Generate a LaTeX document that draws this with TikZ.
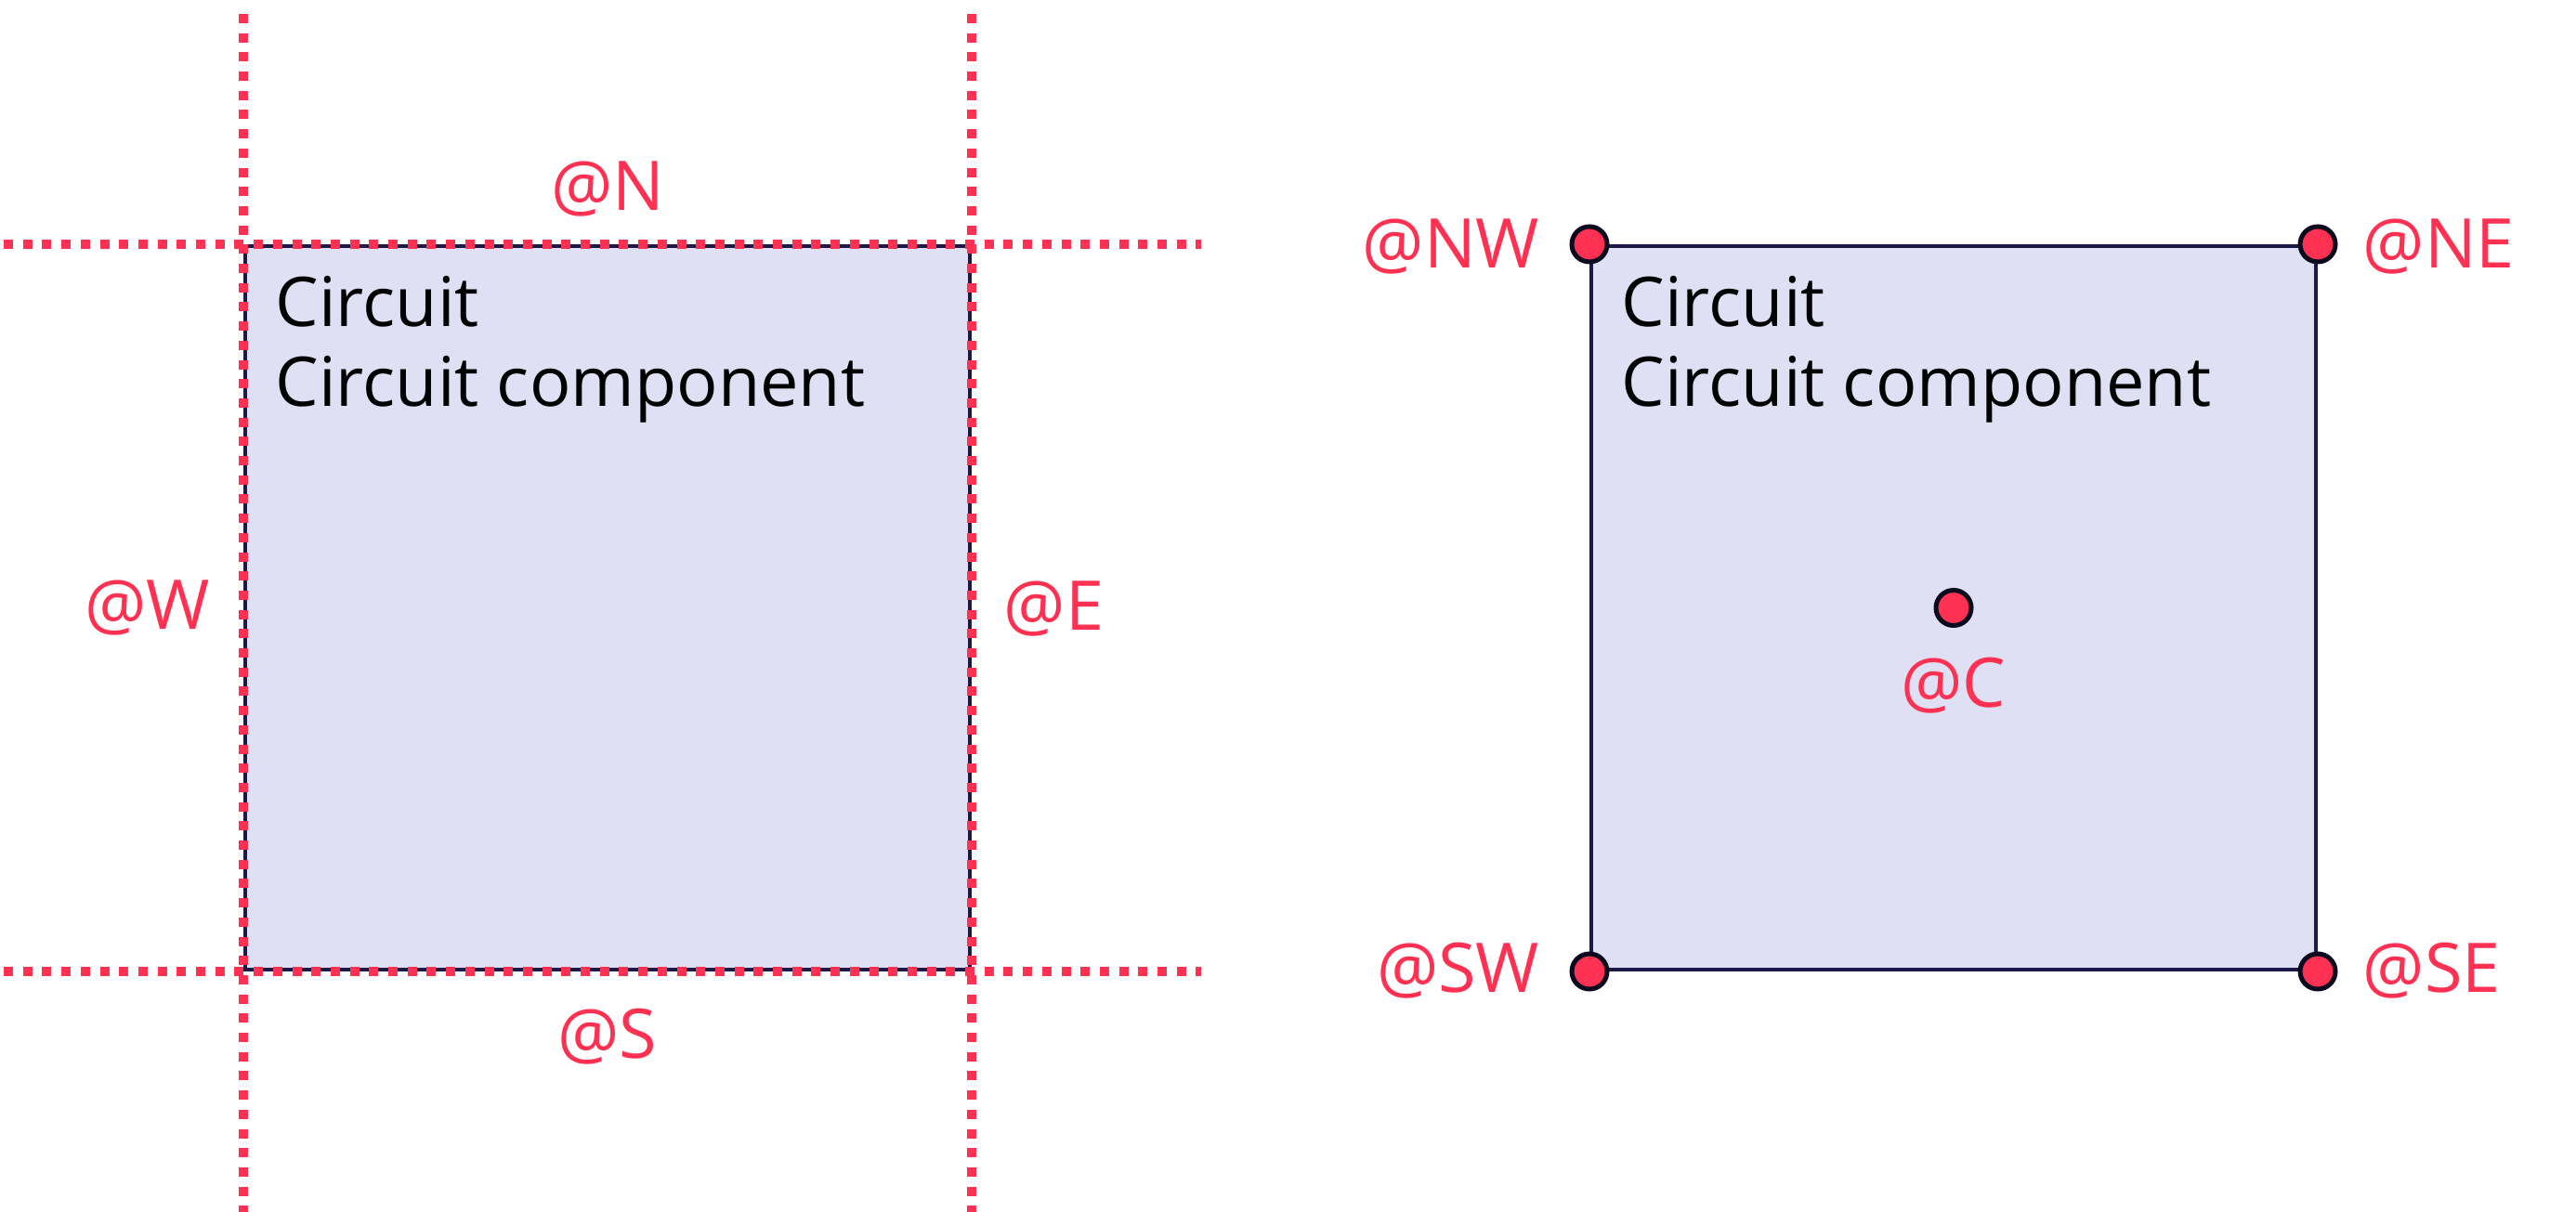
\documentclass[tikz,border=0pt]{standalone}
\usepackage{fontspec}
\setmainfont{Open Sans}
\usetikzlibrary{positioning}

\definecolor{anchorred}{HTML}{FF3152}
\definecolor{boxfill}{HTML}{DFE0F3}
\definecolor{boxline}{HTML}{1C1848}
\definecolor{dotline}{HTML}{0B0B1F}

\begin{document}
\begin{tikzpicture}[
	bx/.style = {rectangle, draw=boxline, fill=boxfill, line width=0.04cm, inner sep=0, minimum width=7.8cm, minimum height=7.79cm},
	tx/.style = {anchor=base west, align=left, inner sep=0, font=\fontsize{21}{24.5}\selectfont},
	lb/.style = {inner sep=0, text=anchorred, font=\fontsize{21}{24.5}\selectfont},
	dt/.style = {circle, draw=dotline, fill=anchorred, line width=0.05cm, minimum size=0.38cm, inner sep=0},
	gd/.style = {anchorred, line width=0.1cm, dash pattern=on 0.1cm off 0.107cm}
	]
	\useasboundingbox (0, 0) rectangle (27.73, 13.05);
	
	% === === === Boxes === === ===
	\node[bx]	(l-box)	at	(6.54, 6.505)	{};
	\node[bx]	(r-box)	at	(21.03, 6.505)	{};
	
	\node[tx]	(l-txt)	at	(2.96, 8.67)	{Circuit\\Circuit component};
	\node[tx]	(r-txt)	at	(17.45, 8.67)	{Circuit\\Circuit component};
	
	
	
	% === === === Guides === === ===
	\coordinate (g-top) at (0, 12.9);
	\coordinate (g-bot) at (0, 0);
	\coordinate (g-lft) at (0.04, 0);
	\coordinate (g-rgt) at (12.93, 0);
	
	\draw[gd] (l-box.north west |- g-top) -- (l-box.south west |- g-bot);
	\draw[gd] (l-box.north east |- g-top) -- (l-box.south east |- g-bot);
	\draw[gd] (g-lft |- l-box.north west) -- (g-rgt |- l-box.north east);
	\draw[gd] (g-lft |- l-box.south west) -- (g-rgt |- l-box.south east);
	
	
	
	% === === === Dots === === ===
	\node[dt]	(nw)	at	(r-box.north west)	{};
	\node[dt]	(ne)	at	(r-box.north east)	{};
	\node[dt]	(sw)	at	(r-box.south west)	{};
	\node[dt]	(se)	at	(r-box.south east)	{};
	\node[dt]	(c)	at	(r-box.center)	{};
	
	
	
	% === === === Labels === === ===
	\node[lb, anchor=base]		(at-n)	at	(6.54, 10.78)	{@N};
	\node[lb, anchor=base]		(at-s)	at	(6.54, 1.65)	{@S};
	\node[lb, anchor=base east]	(at-w)	at	(2.27, 6.27)	{@W};
	\node[lb, anchor=base west]	(at-e)	at	(10.80, 6.26)	{@E};
	
	\node[lb, anchor=base east]	(at-nw)	at	(16.58, 10.16)	{@NW};
	\node[lb, anchor=base west]	(at-ne)	at	(25.43, 10.16)	{@NE};
	\node[lb, anchor=base east]	(at-sw)	at	(16.58, 2.36)	{@SW};
	\node[lb, anchor=base west]	(at-se)	at	(25.43, 2.36)	{@SE};
	\node[lb, anchor=base]		(at-c)	at	(21.03, 5.43)	{@C};
	
\end{tikzpicture}
\end{document}
